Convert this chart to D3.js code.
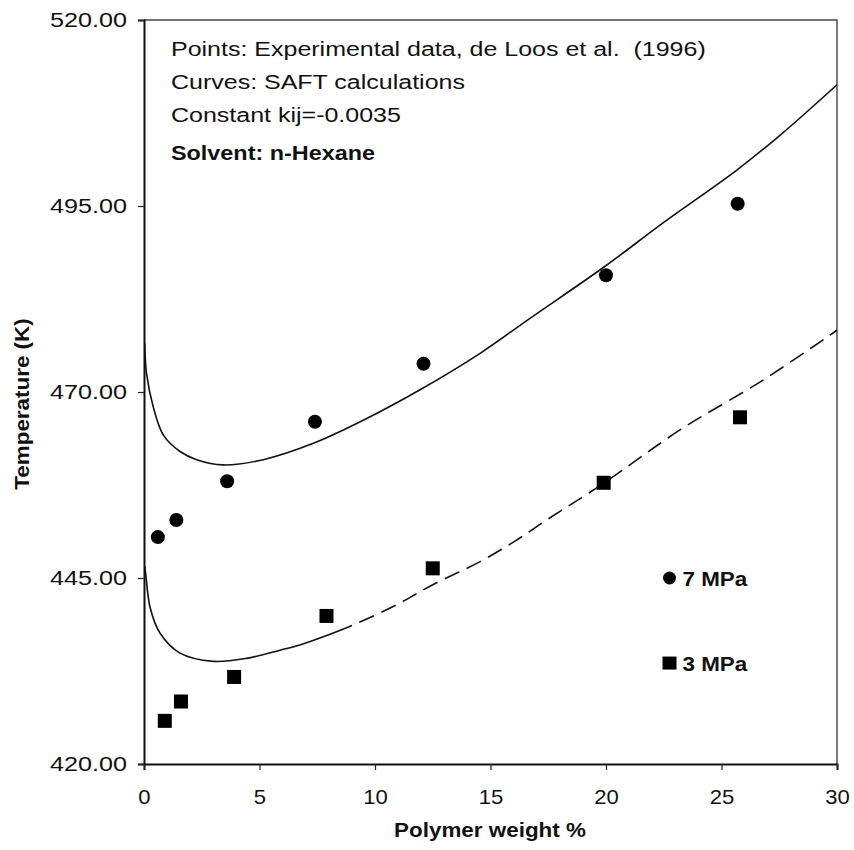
<!DOCTYPE html>
<html>
<head>
<meta charset="utf-8">
<script src="https://cdn.jsdelivr.net/npm/d3@7"></script>
<style>
  html, body { margin: 0; padding: 0; background: #fff; }
  svg { display: block; }
  text { font-family: "Liberation Sans", Arial, sans-serif; fill: #111; white-space: pre; }
</style>
</head>
<body>
<svg id="chart" width="854" height="850"></svg>
<script>
// Experimental cloud points (de Loos et al., 1996)
const points7x = [0.6, 1.4, 3.6, 7.4, 12.1, 20.0, 25.7];
const points7T = [450.5, 452.8, 458.0, 466.0, 473.8, 485.7, 495.3];
const points3x = [0.9, 1.6, 3.9, 7.9, 12.5, 19.9, 25.8];
const points3T = [425.8, 428.4, 431.7, 439.9, 446.3, 457.8, 466.6];

// SAFT cloud-point curves
const curve7x = [0.03, 0.11, 0.4, 0.84, 1.56, 2.28, 3.43, 5.16, 7.33, 9.49, 11.95, 14.55, 16.71, 19.96, 22.5, 25.65, 27.53, 30];
const curve7T = [476.5, 472.5, 468.0, 464.2, 462.0, 460.9, 460.2, 460.9, 463.1, 466.2, 470.3, 475.2, 479.9, 486.9, 492.8, 499.8, 504.5, 511.3];
const curve3x = [0.03, 0.08, 0.26, 0.69, 1.56, 3.0, 4.44, 5.89, 6.75, 7.76, 9.06, 10.94, 12.5, 14.55, 16.13, 17.43, 19.88, 23.2, 26.8, 30];
const curve3T = [446.6, 445.4, 441.1, 437.6, 434.9, 433.8, 434.2, 435.3, 436.0, 437.1, 438.7, 441.4, 444.1, 447.2, 450.1, 452.8, 457.7, 464.9, 471.6, 478.3];
const curve3DashFrom = 9;   // weight % beyond which the 3 MPa curve is dashed

const xTicks = [0, 5, 10, 15, 20, 25, 30];
const yTicks = [420, 445, 470, 495, 520];

const notes = [
  "Points: Experimental data, de Loos et al.  (1996)",
  "Curves: SAFT calculations",
  "Constant kij=-0.0035"
];
const solventNote = "Solvent: n-Hexane";
const legendLabels = ["7 MPa", "3 MPa"];
const legendT = [445, 433.5];
const legendX = 22.75;

const svg = d3.select("#chart");
const plotL = 144, plotR = 837, plotT = 20, plotB = 764;
const x = d3.scaleLinear().domain([0, 30]).range([plotL, plotR]);
const y = d3.scaleLinear().domain([420, 520]).range([plotB, plotT]);
const sx = 1.2;   // horizontal glyph stretch

svg.append("defs").append("clipPath").attr("id", "plot-clip")
  .append("rect").attr("x", plotL).attr("y", plotT)
  .attr("width", plotR - plotL).attr("height", plotB - plotT);

// plot frame (top and right edges)
svg.append("path")
  .attr("d", `M${plotL},${plotT}H${plotR}V${plotB}`)
  .attr("fill", "none").attr("stroke", "#444").attr("stroke-width", 1.4);

// axes
const yAxis = svg.append("g")
  .attr("transform", `translate(${plotL},0)`)
  .call(d3.axisLeft(y).tickValues(yTicks).tickFormat(d3.format(".2f")).tickSize(6).tickPadding(11));
const xAxis = svg.append("g")
  .attr("transform", `translate(0,${plotB})`)
  .call(d3.axisBottom(x).tickValues(xTicks).tickFormat(d3.format("d")).tickSize(6).tickPadding(19));
[yAxis, xAxis].forEach(g => {
  g.select(".domain").attr("stroke", "#111").attr("stroke-width", 2);
  g.selectAll(".tick line").attr("stroke", "#222").attr("stroke-width", 1.2);
  g.selectAll(".tick text").style("font-size", "21px").attr("fill", "#111");
});
// stretch tick labels horizontally around their anchor
yAxis.selectAll(".tick text").each(function () {
  const t = d3.select(this);
  const tx = +t.attr("x");
  t.attr("transform", `translate(${tx},0) scale(${sx},1) translate(${-tx},0)`);
});
xAxis.selectAll(".tick text").attr("transform", `scale(1.05,1)`);

// axis titles
svg.append("text")
  .attr("transform", `translate(490,837) scale(1.15,1)`)
  .attr("text-anchor", "middle").style("font-size", "19.5px").style("font-weight", "bold")
  .text("Polymer weight %");
svg.append("text")
  .attr("transform", `translate(29,404) rotate(-90) scale(1.15,1)`)
  .attr("text-anchor", "middle").style("font-size", "19.5px").style("font-weight", "bold")
  .text("Temperature (K)");

// annotation block
notes.forEach((s, i) => {
  svg.append("text")
    .attr("transform", `translate(171,${56 + i * 33}) scale(1.25,1)`)
    .style("font-size", "20px").text(s);
});
svg.append("text")
  .attr("transform", `translate(171,160) scale(1.2,1)`)
  .style("font-size", "19.5px").style("font-weight", "bold").text(solventNote);

// curves
const line = d3.line().x(d => x(d[0])).y(d => y(d[1])).curve(d3.curveCatmullRom.alpha(0.5));
const c7 = d3.zip(curve7x, curve7T);
const c3 = d3.zip(curve3x, curve3T);
const curves = svg.append("g").attr("clip-path", "url(#plot-clip)");
curves.append("path").attr("d", line(c7))
  .attr("fill", "none").attr("stroke", "#111").attr("stroke-width", 1.6);
const p3 = curves.append("path").attr("d", line(c3))
  .attr("fill", "none").attr("stroke", "#111").attr("stroke-width", 1.6);

// solid up to curve3DashFrom, dashed afterwards
(function () {
  const node = p3.node();
  const total = node.getTotalLength();
  const target = x(curve3DashFrom);
  let lo = 0, hi = total;
  for (let k = 0; k < 40; k++) {
    const mid = (lo + hi) / 2;
    if (node.getPointAtLength(mid).x < target) lo = mid; else hi = mid;
  }
  const dashes = [lo];
  let len = lo;
  while (len < total) { dashes.push(8, 16); len += 24; }
  dashes.push(8);
  p3.attr("stroke-dasharray", dashes.join(","));
})();

// experimental points
svg.append("g").selectAll("circle")
  .data(d3.zip(points7x, points7T)).join("circle")
  .attr("cx", d => x(d[0])).attr("cy", d => y(d[1])).attr("r", 7).attr("fill", "#000");
svg.append("g").selectAll("rect")
  .data(d3.zip(points3x, points3T)).join("rect")
  .attr("x", d => x(d[0]) - 7).attr("y", d => y(d[1]) - 7)
  .attr("width", 14).attr("height", 14).attr("fill", "#000");

// legend
const lx = x(legendX);
svg.append("circle").attr("cx", lx).attr("cy", y(legendT[0])).attr("r", 6.5).attr("fill", "#000");
svg.append("rect").attr("x", lx - 7).attr("y", y(legendT[1]) - 7).attr("width", 14).attr("height", 13).attr("fill", "#000");
legendLabels.forEach((s, i) => {
  svg.append("text")
    .attr("transform", `translate(${lx + 13},${y(legendT[i]) + 7.5}) scale(1.12,1)`)
    .style("font-size", "20px").style("font-weight", "bold").text(s);
});
</script>
</body>
</html>
